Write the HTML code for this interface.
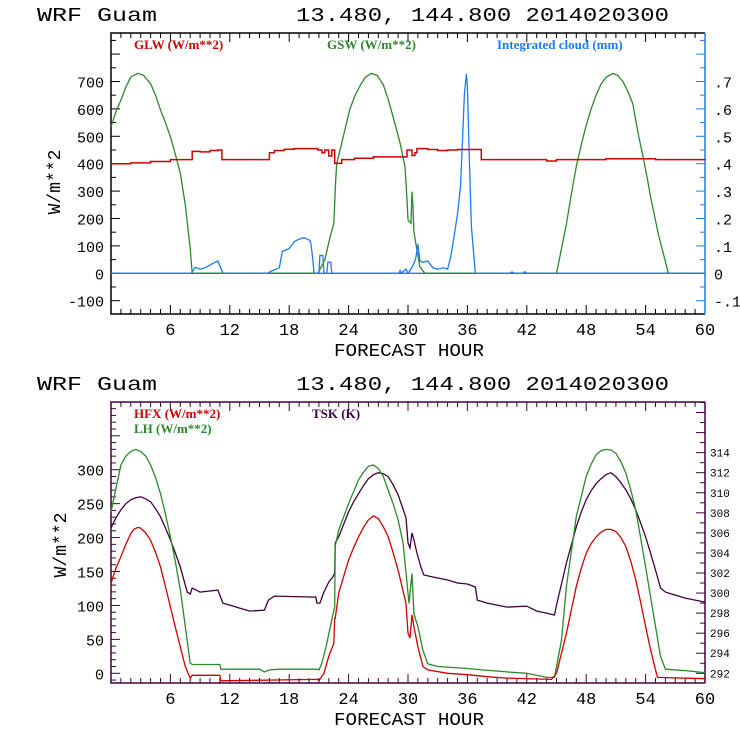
<!DOCTYPE html>
<html><head><meta charset="utf-8"><style>
body{margin:0;background:#fff;width:740px;height:740px;overflow:hidden}
svg{display:block}
text{font-family:"Liberation Mono",monospace}
.lg{font-family:"Liberation Serif",serif;font-size:13px;font-weight:bold}
</style></head><body>
<svg id="chart" width="740" height="740" viewBox="0 0 740 740" xmlns="http://www.w3.org/2000/svg">
<g id="top"></g>
<g id="bot"></g>
</svg>
<script>
// ---- top panel data ----
const glwHours=[0,2,4,6,8.2,9,10,10.8,11.2,16,16.5,17.5,18.5,20.9,21.3,21.6,22,22.3,22.6,23.3,24.6,26.5,29.9,30.4,30.7,30.9,32,33,34,35,37.4,44,45,50,55,60];
const glwValues=[400,403,408,415,445,443,448,450,415,440,448,453,455,450,440,450,428,450,401,415,420,425,450,430,440,455,452,448,450,452,415,410,415,418,415,412];
const gswHours=[0,0.5,1,1.5,2,2.7,3.3,4,4.5,5,5.5,6,6.5,7,7.5,8,8.2,20.9,21.6,22.1,22.5,22.7,22.8,23.3,24.1,24.6,25.2,25.7,26.3,26.9,27.5,28,28.5,29.2,29.7,29.9,30.0,30.3,30.4,30.5,30.6,30.9,31.2,31.7,45,45.5,46,46.5,47,47.5,48,48.5,49,49.5,50,50.7,51.2,51.7,52.2,52.7,53.3,53.8,54.2,54.5,55.3,56.3,60];
const gswValues=[535,590,632,680,716,730,722,692,650,596,550,498,435,365,250,90,0,0,48,128,183,340,400,475,596,645,688,715,730,722,688,635,571,475,389,268,195,183,298,249,152,85,24,0,0,90,180,290,390,470,540,600,650,690,715,730,722,700,665,620,500,416,340,280,140,0,0];
const cloudHours=[0,8.1,8.5,9,9.5,10,10.5,10.8,11.3,15.8,16.3,17,17.3,18,18.5,19,19.5,20.1,20.2,20.4,20.5,21.0,21.1,21.4,21.5,21.8,21.9,22.2,22.3,29.1,29.2,29.3,29.8,30.0,30.2,30.6,30.8,31.0,31.2,31.5,32,32.5,33,33.6,34.0,34.3,34.6,35.0,35.3,35.5,35.7,35.9,36.0,36.2,36.4,36.7,36.8,40.3,40.5,40.8,41.6,41.8,42,60];
const cloudValues=[0,0,.022,.015,.02,.03,.04,.045,0,0,.01,.02,.08,.09,.115,.125,.13,.12,.105,.045,0,0,.065,.065,0,0,.04,.04,0,0,.01,0,.015,0,.01,.035,.058,.107,.045,.04,.045,.02,.015,.02,.015,.058,.12,.217,.315,.475,.655,.728,.68,.41,.17,.045,0,0,.005,0,0,.006,0,0];
// ---- bottom panel data ----
const lhHours=[0,1,1.5,2,2.5,3,3.5,4,4.5,5,5.5,6,6.5,7,7.5,8,8.2,11,11.1,15,15.5,16,17,20.9,21,21.3,21.8,22.3,22.6,22.65,23,24,25,25.5,26,26.5,27,27.5,28,28.5,29,29.5,30,30.1,30.4,30.6,31,31.5,32,33,36,37.5,40,42,44,44.8,45.5,46,47,48,48.5,49,49.5,50,50.5,51,51.5,52,52.5,53,53.5,54,54.5,55,55.5,56,58,60];
const lhValues=[238,307,320,327,330,327,320,307,288,265,235,201,165,123,69,15,13,13,6,6,2,5,6,6,5,15,44,79,98,187,211,250,285,296,305,307,302,290,270,250,226,192,118,103,147,88,69,34,14,10,7,5,2,0,-6,-6,49,128,231,290,308,322,328,330,329,324,312,295,270,241,200,157,113,69,25,6,4,1];
const hfxHours=[0,0.5,1,1.5,2,2.3,2.7,3,3.5,4,4.5,5,5.5,6,6.5,7,7.5,8,8.2,11,11.1,20.9,21,21.5,22,22.5,22.6,22.65,23,24,24.5,25,25.5,26,26.5,27,27.5,28,28.5,29,29.8,30,30.2,30.4,30.6,31,31.5,32,34,36,38,40,44.5,45,46,47,47.5,48,48.5,49,49.5,50,50.5,51,51.5,52,52.5,53,53.5,54,54.5,55,55.2,60];
const hfxValues=[133,155,172,190,206,212,215,214,207,196,178,157,128,98,68,39,10,-7,-3,-3,-11,-9,-11,0,25,44,81,81,118,167,185,201,215,226,232,228,216,201,178,152,103,59,52,86,69,39,10,5,0,-2,-5,-7,-9,0,59,128,155,177,191,201,208,212,212,209,200,187,165,138,105,69,35,5,-6,-8];
const tskHours=[0,0.5,1,1.5,2,2.5,3,3.5,4,4.5,5,5.5,6,6.5,7,7.7,8,8.2,9,10.8,11.3,12,13,14,15.5,15.9,16.5,20.7,20.8,21.1,21.5,22,22.4,22.6,22.65,23,24,24.5,25,25.5,26,26.5,27,27.5,28,28.5,29,29.8,30,30.2,30.4,30.6,30.9,31.3,31.6,32.5,34,35,36,36.8,37,38,39,40,42,43,44,44.8,45,46,47,47.5,48,48.5,49,49.5,50,50.5,51,51.5,52,52.5,53,53.5,54,54.5,55,55.5,56,57,58,59,60];
const tskValues=[306.5,307.5,308.3,308.9,309.3,309.5,309.6,309.4,309.1,308.4,307.6,306.5,305.3,304.0,302.6,300.1,299.9,300.5,300.1,300.3,299.0,298.8,298.5,298.2,298.3,299.3,299.7,299.6,299.0,299.0,300.1,301.1,301.6,302,305.0,305.6,308.1,309.1,309.9,310.7,311.4,311.8,312.0,311.9,311.6,310.8,309.8,307.5,305.0,304.5,306.0,305.3,304.0,302.6,301.8,301.6,301.3,301.0,300.9,300.6,299.3,299.0,298.8,298.6,298.7,298.2,298.0,297.8,298.8,303.0,306.6,308.1,309.3,310.2,310.9,311.4,311.8,312.0,311.6,311.0,310.3,309.4,308.3,307.0,305.6,304.0,302.3,300.5,300.1,299.8,299.5,299.3,299.1];
const xTicks=[6,12,18,24,30,36,42,48,54,60];
const topLeftTicks=[-100,0,100,200,300,400,500,600,700];
const topRightTicks=[-0.1,0,0.1,0.2,0.3,0.4,0.5,0.6,0.7];
const topRightLabels=["-.1","0",".1",".2",".3",".4",".5",".6",".7"];
const botLeftTicks=[0,50,100,150,200,250,300];
const botRightTicks=[292,294,296,298,300,302,304,306,308,310,312,314];

const NS="http://www.w3.org/2000/svg";
const X0=111,X1=705;
const xs=h=>X0+h*(X1-X0)/60;
function mk(parent,tag,attrs,txt){const e=document.createElementNS(NS,tag);for(const k in attrs)e.setAttribute(k,attrs[k]);if(txt!==undefined)e.textContent=txt;parent.appendChild(e);return e;}
function poly(parent,hours,vals,ys,color,name){
  const pts=hours.map((h,i)=>xs(h).toFixed(1)+","+ys(vals[i]).toFixed(1)).join(" ");
  const p=mk(parent,"polyline",{points:pts,fill:"none",stroke:color,"stroke-width":1.3});
  
  
}
function panel(g,T,B,frame,rightColor){
  const t1=mk(g,"text",{x:37,y:T-12,"font-size":19,textLength:120,lengthAdjust:"spacingAndGlyphs"},"WRF  Guam");
  
  
  const t2=mk(g,"text",{x:296,y:T-12,"font-size":19,textLength:373,lengthAdjust:"spacingAndGlyphs"},"13.480, 144.800  2014020300");
  
  
  const bx=mk(g,"path",{d:`M${X1},${T}H${X0}V${B}H${X1}`,fill:"none",stroke:frame,"stroke-width":1.5});
  
  
  const rb=mk(g,"line",{x1:X1,y1:T,x2:X1,y2:B,stroke:rightColor,"stroke-width":1.5});
  
  
  for(let h=1;h<60;h++){const L=h%6==0?9:5;
    mk(g,"line",{x1:xs(h),y1:B,x2:xs(h),y2:B-L,stroke:frame,"stroke-width":1});
    mk(g,"line",{x1:xs(h),y1:T,x2:xs(h),y2:T+L,stroke:frame,"stroke-width":1});}
  xTicks.forEach(h=>{const e=mk(g,"text",{x:xs(h),y:B+21,"font-size":17,"text-anchor":"middle"},String(h));
    
    });
  const xt=mk(g,"text",{x:334,y:B+42,"font-size":18,textLength:150,lengthAdjust:"spacingAndGlyphs"},"FORECAST HOUR");
  
  
}
// top panel
(function(){
  const g=document.getElementById("top");const T=33,B=314;
  const yL=v=>273.3-v*0.274, yR=c=>273.3-c*274;
  panel(g,T,B,"#000","#1a7cff");
  for(let v=-150;v<=850;v+=50){const y=yL(v);if(y<T||y>B)continue;const L=v%100==0?9:5;
    mk(g,"line",{x1:X0,y1:y,x2:X0+L,y2:y,stroke:"#000"});
    mk(g,"line",{x1:X1,y1:y,x2:X1-L,y2:y,stroke:"#1a7cff"});}
  topLeftTicks.forEach(v=>{const e=mk(g,"text",{x:104,y:yL(v)+6,"font-size":15,"text-anchor":"end"},String(v));
    
    });
  topRightTicks.forEach((c,i)=>{const e=mk(g,"text",{x:714,y:yR(c)+6,"font-size":15},topRightLabels[i]);
    
    });
  const yt=mk(g,"text",{x:0,y:0,"font-size":18,"text-anchor":"middle",transform:"translate(60,182) rotate(-90)"},"W/m**2");
  
  
  const zl=mk(g,"line",{x1:X0,y1:yL(0),x2:X1,y2:yL(0),stroke:"#1a7cff","stroke-width":1.3});
  
  
  poly(g,gswHours,gswValues,yL,"#2a8a2a","gsw-line");
  poly(g,cloudHours,cloudValues,yR,"#1a7cff","cloud-line");
  let d="";glwHours.forEach((h,i)=>{d+=(i?`H${xs(h).toFixed(1)}V`:`M${xs(h).toFixed(1)},`)+yL(glwValues[i]).toFixed(1);});d+=`H${X1}`;
  const p=mk(g,"path",{d:d,fill:"none",stroke:"#d00000","stroke-width":1.5});
  
  
  const l1=mk(g,"text",{x:134,y:49,class:"lg",fill:"#d00000"},"GLW (W/m**2)");
  
  
  const l2=mk(g,"text",{x:327,y:49,class:"lg",fill:"#2a8a2a"},"GSW (W/m**2)");
  
  
  const l3=mk(g,"text",{x:497,y:49,class:"lg",fill:"#1a7cff"},"Integrated cloud (mm)");
  
  
})();
// bottom panel
(function(){
  const g=document.getElementById("bot");const T=402,B=683;
  const yL=v=>673.3-v*0.6786, yR=t=>673.3-(t-292)*10.03;
  panel(g,T,B,"#400040","#400040");
  for(let v=-10;v<=400;v+=10){const y=yL(v);if(y<T||y>B)continue;const L=v%50==0?9:5;
    mk(g,"line",{x1:X0,y1:y,x2:X0+L,y2:y,stroke:"#400040"});}
  for(let t=291;t<=320;t++){const y=yR(t);if(y<T||y>B)continue;const L=t%2==0?9:5;
    mk(g,"line",{x1:X1,y1:y,x2:X1-L,y2:y,stroke:"#400040"});}
  botLeftTicks.forEach(v=>{const e=mk(g,"text",{x:104,y:yL(v)+6,"font-size":15,"text-anchor":"end"},String(v));
    
    });
  botRightTicks.forEach(t=>{const e=mk(g,"text",{x:710,y:yR(t)+4,"font-size":11},String(t));
    
    });
  const yt=mk(g,"text",{x:0,y:0,"font-size":18,"text-anchor":"middle",transform:"translate(66,545) rotate(-90)"},"W/m**2");
  
  
  poly(g,tskHours,tskValues,yR,"#400040","tsk-line");
  poly(g,lhHours,lhValues,yL,"#2a8a2a","lh-line");
  poly(g,hfxHours,hfxValues,yL,"#d00000","hfx-line");
  const l1=mk(g,"text",{x:134,y:418,class:"lg",fill:"#d00000"},"HFX (W/m**2)");
  
  
  const l2=mk(g,"text",{x:134,y:433,class:"lg",fill:"#2a8a2a"},"LH  (W/m**2)");
  
  
  const l3=mk(g,"text",{x:312,y:418,class:"lg",fill:"#400040"},"TSK (K)");
  
  
})();
</script>
</body></html>
